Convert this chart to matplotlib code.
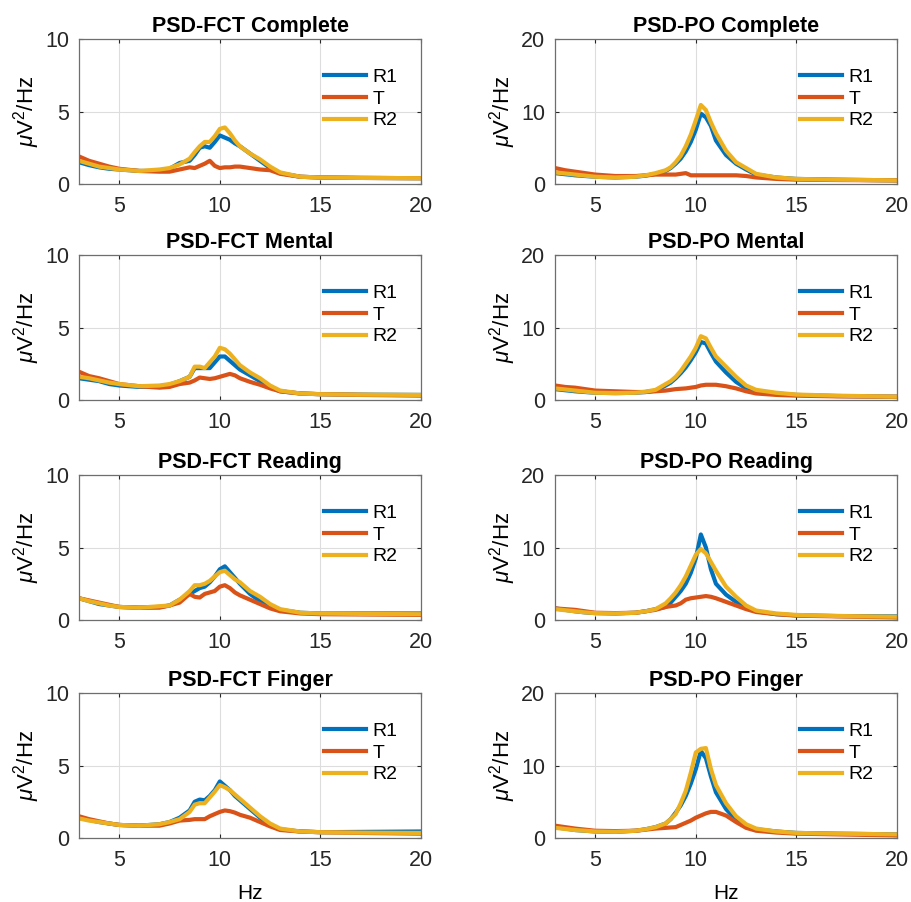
import numpy as np
import matplotlib
matplotlib.use("Agg")
import matplotlib.pyplot as plt

plt.rcParams['font.family'] = ['Liberation Sans', 'DejaVu Sans']
plt.rcParams['mathtext.fontset'] = 'custom'
plt.rcParams['mathtext.rm'] = 'Liberation Sans'
plt.rcParams['mathtext.it'] = 'Liberation Sans:italic'

# frequency grid (Hz)
freq = [3, 3.5, 4, 4.5, 5, 6, 7, 7.5, 8, 8.5, 8.75, 9, 9.25, 9.5, 9.75, 10,
        10.25, 10.5, 10.75, 11, 11.5, 12, 12.5, 13, 14, 15, 17, 20]

series_names = ["R1", "T", "R2"]
colors = ["#0072BD", "#D95319", "#EDB120"]

# PSD values (uV^2/Hz)
fct_complete_r1 = [1.5, 1.3, 1.15, 1.05, 1.0, 0.9, 0.9, 1.05, 1.45, 1.6, 2.0, 2.5, 2.6, 2.5, 2.9, 3.35, 3.2, 3.05, 2.8, 2.6, 2.1, 1.6, 1.1, 0.75, 0.5, 0.45, 0.42, 0.4]
fct_complete_t = [1.9, 1.6, 1.4, 1.2, 1.05, 0.9, 0.85, 0.85, 1.0, 1.15, 1.1, 1.25, 1.4, 1.6, 1.25, 1.1, 1.15, 1.15, 1.2, 1.2, 1.1, 1.0, 0.95, 0.7, 0.5, 0.45, 0.42, 0.4]
fct_complete_r2 = [1.6, 1.4, 1.2, 1.1, 1.0, 0.9, 1.0, 1.1, 1.35, 1.75, 2.2, 2.6, 2.9, 2.9, 3.3, 3.8, 3.9, 3.5, 3.0, 2.6, 2.1, 1.7, 1.2, 0.8, 0.5, 0.45, 0.42, 0.4]

po_complete_r1 = [1.5, 1.35, 1.2, 1.1, 1.0, 0.9, 1.0, 1.15, 1.4, 1.8, 2.2, 2.8, 3.5, 4.5, 5.8, 7.5, 9.7, 9.2, 8.0, 6.0, 4.0, 2.8, 2.0, 1.3, 0.9, 0.7, 0.6, 0.5]
po_complete_t = [2.2, 1.9, 1.7, 1.5, 1.3, 1.1, 1.1, 1.2, 1.3, 1.3, 1.3, 1.3, 1.4, 1.5, 1.2, 1.2, 1.2, 1.2, 1.2, 1.2, 1.2, 1.2, 1.1, 0.9, 0.7, 0.6, 0.55, 0.5]
po_complete_r2 = [1.6, 1.45, 1.3, 1.15, 1.0, 0.9, 1.0, 1.2, 1.5, 1.9, 2.3, 3.0, 3.9, 5.2, 6.8, 8.8, 10.9, 10.2, 8.5, 7.0, 4.6, 3.0, 2.2, 1.4, 0.9, 0.7, 0.6, 0.5]

fct_mental_r1 = [1.5, 1.4, 1.3, 1.1, 1.0, 0.9, 0.95, 1.05, 1.3, 1.6, 2.2, 2.2, 2.2, 2.2, 2.6, 3.0, 3.0, 2.7, 2.4, 2.1, 1.7, 1.3, 0.9, 0.6, 0.45, 0.4, 0.37, 0.35]
fct_mental_t = [1.95, 1.65, 1.5, 1.3, 1.1, 0.95, 0.85, 0.9, 1.1, 1.2, 1.35, 1.55, 1.5, 1.45, 1.5, 1.6, 1.7, 1.8, 1.7, 1.5, 1.25, 1.05, 0.8, 0.6, 0.45, 0.4, 0.35, 0.3]
fct_mental_r2 = [1.6, 1.5, 1.35, 1.2, 1.1, 0.95, 1.0, 1.1, 1.3, 1.6, 2.3, 2.3, 2.2, 2.6, 3.0, 3.6, 3.5, 3.2, 2.8, 2.4, 1.9, 1.5, 1.0, 0.65, 0.45, 0.4, 0.37, 0.35]

po_mental_r1 = [1.5, 1.35, 1.2, 1.1, 1.0, 0.95, 1.0, 1.1, 1.3, 2.0, 2.4, 3.0, 3.7, 4.5, 5.5, 6.6, 8.0, 7.8, 6.5, 5.3, 3.8, 2.5, 1.6, 1.2, 0.9, 0.7, 0.55, 0.45]
po_mental_t = [2.0, 1.8, 1.7, 1.5, 1.3, 1.2, 1.1, 1.1, 1.2, 1.3, 1.4, 1.5, 1.55, 1.6, 1.7, 1.8, 2.0, 2.1, 2.1, 2.1, 1.9, 1.6, 1.2, 0.9, 0.7, 0.6, 0.5, 0.45]
po_mental_r2 = [1.6, 1.45, 1.3, 1.15, 1.0, 0.95, 1.0, 1.15, 1.4, 2.2, 2.6, 3.2, 4.0, 5.0, 6.0, 7.2, 8.8, 8.5, 7.2, 6.0, 4.6, 3.2, 2.0, 1.4, 1.0, 0.75, 0.6, 0.45]

fct_reading_r1 = [1.5, 1.3, 1.1, 1.0, 0.9, 0.85, 0.9, 1.0, 1.4, 1.8, 2.0, 2.2, 2.3, 2.6, 3.0, 3.5, 3.7, 3.3, 2.9, 2.5, 1.8, 1.3, 0.9, 0.7, 0.5, 0.45, 0.45, 0.45]
fct_reading_t = [1.5, 1.35, 1.2, 1.05, 0.9, 0.85, 0.85, 1.0, 1.2, 1.8, 1.6, 1.55, 1.8, 1.9, 2.0, 2.3, 2.4, 2.2, 1.9, 1.7, 1.4, 1.1, 0.8, 0.6, 0.45, 0.4, 0.38, 0.35]
fct_reading_r2 = [1.5, 1.3, 1.15, 1.0, 0.9, 0.85, 0.95, 1.0, 1.4, 2.0, 2.4, 2.4, 2.5, 2.7, 3.0, 3.3, 3.4, 3.1, 2.8, 2.6, 2.0, 1.6, 1.1, 0.75, 0.5, 0.45, 0.42, 0.4]

po_reading_r1 = [1.6, 1.4, 1.2, 1.05, 0.95, 0.9, 1.0, 1.2, 1.5, 1.8, 2.4, 3.2, 4.0, 5.0, 6.5, 8.5, 11.8, 10.0, 7.0, 5.0, 3.5, 2.5, 1.7, 1.2, 0.8, 0.65, 0.55, 0.5]
po_reading_t = [1.6, 1.5, 1.4, 1.2, 1.0, 0.95, 1.0, 1.2, 1.4, 1.8, 1.9, 2.0, 2.3, 2.8, 3.0, 3.1, 3.2, 3.3, 3.2, 3.0, 2.5, 2.0, 1.5, 1.1, 0.8, 0.6, 0.5, 0.35]
po_reading_r2 = [1.5, 1.35, 1.2, 1.05, 0.95, 0.9, 1.0, 1.2, 1.5, 2.3, 3.0, 3.8, 4.8, 6.0, 7.5, 9.0, 9.8, 9.2, 8.0, 6.8, 4.6, 3.2, 2.0, 1.3, 0.9, 0.7, 0.55, 0.45]

fct_finger_r1 = [1.4, 1.25, 1.1, 1.0, 0.9, 0.85, 0.95, 1.1, 1.4, 1.9, 2.5, 2.65, 2.6, 2.9, 3.3, 3.9, 3.6, 3.3, 2.9, 2.6, 2.0, 1.4, 0.9, 0.6, 0.45, 0.4, 0.42, 0.45]
fct_finger_t = [1.5, 1.3, 1.15, 1.0, 0.9, 0.85, 0.85, 1.0, 1.2, 1.25, 1.3, 1.3, 1.3, 1.5, 1.65, 1.8, 1.9, 1.85, 1.75, 1.6, 1.4, 1.1, 0.8, 0.55, 0.45, 0.4, 0.35, 0.3]
fct_finger_r2 = [1.35, 1.2, 1.1, 1.0, 0.9, 0.85, 0.95, 1.1, 1.3, 1.8, 2.3, 2.4, 2.4, 2.8, 3.2, 3.65, 3.5, 3.3, 3.0, 2.7, 2.1, 1.5, 1.0, 0.65, 0.45, 0.4, 0.37, 0.35]

po_finger_r1 = [1.5, 1.3, 1.1, 1.0, 0.9, 0.85, 1.0, 1.2, 1.5, 2.0, 2.6, 3.5, 4.5, 5.8, 7.5, 9.5, 12.0, 11.0, 8.5, 6.3, 4.0, 2.5, 1.7, 1.2, 0.9, 0.7, 0.6, 0.5]
po_finger_t = [1.7, 1.5, 1.3, 1.15, 1.0, 0.95, 1.0, 1.15, 1.3, 1.4, 1.45, 1.5, 1.8, 2.1, 2.4, 2.8, 3.1, 3.4, 3.6, 3.6, 3.1, 2.2, 1.4, 1.0, 0.75, 0.6, 0.5, 0.35]
po_finger_r2 = [1.4, 1.25, 1.1, 1.0, 0.9, 0.85, 1.0, 1.2, 1.5, 2.0, 2.6, 3.3, 4.8, 6.5, 9.0, 11.8, 12.3, 12.4, 9.5, 7.3, 4.8, 3.0, 1.9, 1.3, 0.9, 0.7, 0.6, 0.5]

panels = [
    ("PSD-FCT Complete", [fct_complete_r1, fct_complete_t, fct_complete_r2], 10),
    ("PSD-PO Complete", [po_complete_r1, po_complete_t, po_complete_r2], 20),
    ("PSD-FCT Mental", [fct_mental_r1, fct_mental_t, fct_mental_r2], 10),
    ("PSD-PO Mental", [po_mental_r1, po_mental_t, po_mental_r2], 20),
    ("PSD-FCT Reading", [fct_reading_r1, fct_reading_t, fct_reading_r2], 10),
    ("PSD-PO Reading", [po_reading_r1, po_reading_t, po_reading_r2], 20),
    ("PSD-FCT Finger", [fct_finger_r1, fct_finger_t, fct_finger_r2], 10),
    ("PSD-PO Finger", [po_finger_r1, po_finger_t, po_finger_r2], 20),
]

fig = plt.figure(figsize=(9.11, 9.02), dpi=100)

W, H = 911, 902
col_left = [79, 555]
row_top = [39, 255, 475, 693]
ax_w, ax_h = 342, 145
edge = "#6e6e6e"

for i, (title, data, ymax) in enumerate(panels):
    r, c = divmod(i, 2)
    ax = fig.add_axes([col_left[c] / W, 1 - (row_top[r] + ax_h) / H, ax_w / W, ax_h / H])
    for vals, name, col in zip(data, series_names, colors):
        ax.plot(freq, vals, color=col, lw=3.0, label=name, solid_joinstyle='round')
    ax.set_xlim(3, 20)
    ax.set_ylim(0, ymax)
    ax.set_xticks([5, 10, 15, 20])
    ax.set_yticks([0, ymax / 2, ymax])
    ax.set_yticklabels([str(int(v)) for v in [0, ymax / 2, ymax]])
    ax.grid(True, color="#dddddd", lw=0.8)
    ax.set_axisbelow(True)
    ax.tick_params(direction="in", length=3, labelsize=15.5, colors="#262626",
                   top=True, right=True)
    ax.tick_params(axis="x", pad=9)
    ax.tick_params(axis="y", pad=7)
    for s in ax.spines.values():
        s.set_color(edge)
        s.set_linewidth(0.9)
    ax.set_title(title, fontsize=15.5, fontweight="bold", pad=5)
    ax.set_ylabel(r"$\mu$V$^2$/Hz", fontsize=16, labelpad=2)
    if r == 3:
        ax.set_xlabel("Hz", fontsize=15, labelpad=9)
    ax.legend(loc="upper left", bbox_to_anchor=(0.715, 0.80), frameon=False,
              fontsize=14, handlelength=2.2, handletextpad=0.3,
              labelspacing=0.22, borderpad=0, borderaxespad=0)

fig.savefig("out.png", dpi=100)
